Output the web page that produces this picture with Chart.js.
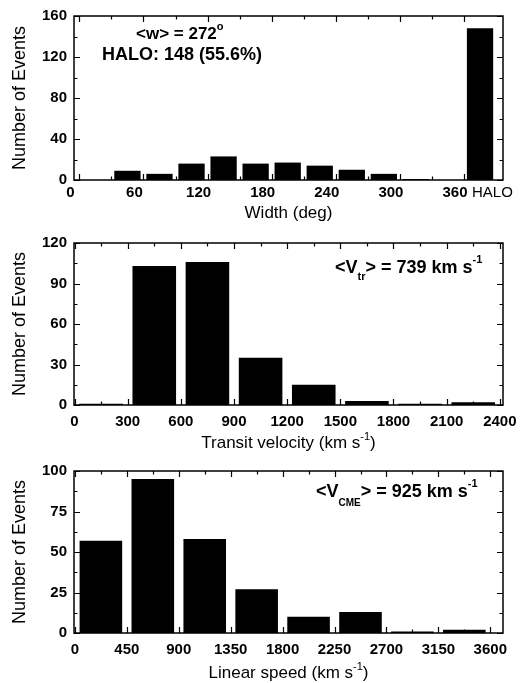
<!DOCTYPE html>
<html>
<head>
<meta charset="utf-8">
<script src="https://cdn.jsdelivr.net/npm/chart.js@4.4.0/dist/chart.umd.min.js"></script>
<style>
html, body { margin: 0; padding: 0; background: #fff; }
.panel { position: absolute; left: 0; width: 527px; }
</style>
</head>
<body>
<div class="panel" style="top:0;height:227px"><canvas id="cWidth"></canvas></div>
<div class="panel" style="top:227px;height:228px"><canvas id="cTransit"></canvas></div>
<div class="panel" style="top:455px;height:228px"><canvas id="cSpeed"></canvas></div>
<script>
// CME width histogram, 30 deg bins, last bin = halo events
const widthBins = [15, 45, 75, 105, 135, 165, 195, 225, 255, 285, 315, 345, 375];
const widthCounts = [0, 9, 6, 16, 23, 16, 17, 14, 10, 6, 1, 0, 148];
const widthTicks = [0, 60, 120, 180, 240, 300, 360];
const widthYTicks = [0, 40, 80, 120, 160];

// transit velocity histogram, 300 km/s bins
const transitBins = [150, 450, 750, 1050, 1350, 1650, 1950, 2250];
const transitCounts = [1, 103, 106, 35, 15, 3, 1, 2];
const transitTicks = [0, 300, 600, 900, 1200, 1500, 1800, 2100, 2400];
const transitYTicks = [0, 30, 60, 90, 120];

// CME linear speed histogram, 450 km/s bins
const speedBins = [225, 675, 1125, 1575, 2025, 2475, 2925, 3375];
const speedCounts = [57, 95, 58, 27, 10, 13, 1, 2];
const speedTicks = [0, 450, 900, 1350, 1800, 2250, 2700, 3150, 3600];
const speedYTicks = [0, 25, 50, 75, 100];

const FONT = '"Liberation Sans", Arial, sans-serif';
const HALO_POS = 395;

// draw a run of text pieces (for sub/superscripts)
function textRun(ctx, x, y, parts, align) {
  let w = 0;
  parts.forEach(p => {
    ctx.font = (p[1] ? 'bold ' : '') + p[2] + 'px ' + FONT;
    w += ctx.measureText(p[0]).width;
  });
  let cx = align === 'center' ? x - w / 2 : x;
  parts.forEach(p => {
    ctx.font = (p[1] ? 'bold ' : '') + p[2] + 'px ' + FONT;
    ctx.fillText(p[0], cx, y + (p[3] || 0));
    cx += ctx.measureText(p[0]).width;
  });
}

// frame, inward ticks, titles and annotations
const deco = {
  id: 'deco',
  afterDatasetsDraw(chart, args, opts) {
    const ctx = chart.ctx;
    const a = chart.chartArea;
    const xs = chart.scales.x, ys = chart.scales.y;
    ctx.save();
    ctx.strokeStyle = '#000';
    ctx.fillStyle = '#000';
    ctx.lineWidth = 1.2;
    ctx.beginPath();
    const tick = (v, len, horiz) => {
      if (horiz) {
        const px = Math.round(xs.getPixelForValue(v)) + 0.5;
        ctx.moveTo(px, a.bottom); ctx.lineTo(px, a.bottom - len);
        ctx.moveTo(px, a.top); ctx.lineTo(px, a.top + len);
      } else {
        const py = Math.round(ys.getPixelForValue(v)) + 0.5;
        ctx.moveTo(a.left, py); ctx.lineTo(a.left + len, py);
        ctx.moveTo(a.right, py); ctx.lineTo(a.right - len, py);
      }
    };
    opts.xMajor.forEach(v => tick(v, 6, true));
    for (let v = opts.xMajor[0] + opts.xStep / 2; v < opts.xMajor[opts.xMajor.length - 1]; v += opts.xStep) tick(v, 3.5, true);
    opts.yMajor.forEach(v => tick(v, 6, false));
    for (let v = opts.yStep / 2; v < opts.yMajor[opts.yMajor.length - 1]; v += opts.yStep) tick(v, 3.5, false);
    ctx.stroke();

    ctx.lineWidth = 1.5;
    ctx.strokeRect(a.left, a.top, a.right - a.left, a.bottom - a.top);

    ctx.textBaseline = 'alphabetic';
    ctx.textAlign = 'left';
    // x title
    textRun(ctx, (a.left + a.right) / 2, opts.xTitleY, opts.xTitle, 'center');
    // y title
    ctx.save();
    ctx.translate(25, (a.top + a.bottom) / 2);
    ctx.rotate(-Math.PI / 2);
    textRun(ctx, 0, 0, [['Number of Events', false, 18]], 'center');
    ctx.restore();
    // annotations
    opts.notes.forEach(n => textRun(ctx, n.x, n.y, n.parts, 'left'));
    ctx.restore();
  }
};

function makePanel(id, c) {
  return new Chart(document.getElementById(id), {
    type: 'bar',
    data: {
      datasets: [{
        data: c.bins.map((x, i) => ({ x: x, y: c.counts[i] })),
        backgroundColor: '#000',
        borderWidth: 0,
        barPercentage: 0.82,
        categoryPercentage: 1
      }]
    },
    options: {
      responsive: true,
      maintainAspectRatio: false,
      animation: false,
      layout: { padding: { top: c.padTop, right: 24, left: 0, bottom: 0 } },
      plugins: {
        legend: { display: false },
        tooltip: { enabled: false },
        deco: c.deco
      },
      scales: {
        x: {
          type: 'linear',
          offset: false,
          min: c.xMin,
          max: c.xMax,
          grid: { display: false, drawTicks: false, offset: false },
          border: { display: false },
          afterBuildTicks: s => { s.ticks = c.xTicks.map(v => ({ value: v })); },
          afterFit: s => { s.height = c.xAxisH; },
          ticks: {
            autoSkip: false,
            maxRotation: 0,
            padding: c.xPad,
            labelOffset: c.labelOffset || 0,
            color: '#000',
            font: ctx => (ctx.tick && ctx.tick.value === HALO_POS)
              ? { family: FONT, size: 15, weight: 'normal' }
              : { family: FONT, size: 15, weight: 'bold' },
            callback: v => v === HALO_POS ? 'HALO' : String(v)
          }
        },
        y: {
          min: 0,
          max: c.yTicks[c.yTicks.length - 1],
          grid: { display: false, drawTicks: false },
          border: { display: false },
          afterBuildTicks: s => { s.ticks = c.yTicks.map(v => ({ value: v })); },
          afterFit: s => { s.width = 74; },
          ticks: {
            padding: 7,
            color: '#000',
            font: { family: FONT, size: 15, weight: 'bold' },
            callback: v => String(v)
          }
        }
      }
    },
    plugins: [deco]
  });
}

makePanel('cWidth', {
  bins: widthBins, counts: widthCounts,
  xTicks: widthTicks.concat([HALO_POS]), yTicks: widthYTicks,
  xMin: -5, xMax: 396.5, padTop: 16, xAxisH: 47, xPad: 3.5, labelOffset: -9,
  deco: {
    xMajor: widthTicks, xStep: 60, yMajor: widthYTicks, yStep: 40,
    xTitleY: 218,
    xTitle: [['Width (deg)', false, 17]],
    notes: [
      { x: 136, y: 39, parts: [['<w> = 272', true, 17], ['o', true, 11, -9]] },
      { x: 102, y: 60, parts: [['HALO: 148 (55.6%)', true, 18]] }
    ]
  }
});

makePanel('cTransit', {
  bins: transitBins, counts: transitCounts,
  xTicks: transitTicks, yTicks: transitYTicks,
  xMin: -3, xMax: 2418, padTop: 14, xAxisH: 50, xPad: 7.5,
  deco: {
    xMajor: transitTicks, xStep: 300, yMajor: transitYTicks, yStep: 30,
    xTitleY: 221,
    xTitle: [['Transit velocity (km s', false, 17], ['-1', false, 11, -8], [')', false, 17]],
    notes: [
      { x: 335, y: 46, parts: [['<V', true, 18], ['tr', true, 11, 7], ['> = 739 km s', true, 18], ['-1', true, 11, -10]] }
    ]
  }
});

makePanel('cSpeed', {
  bins: speedBins, counts: speedCounts,
  xTicks: speedTicks, yTicks: speedYTicks,
  xMin: -8, xMax: 3710, padTop: 13, xAxisH: 50, xPad: 7.5,
  deco: {
    xMajor: speedTicks, xStep: 450, yMajor: speedYTicks, yStep: 25,
    xTitleY: 223,
    xTitle: [['Linear speed (km s', false, 17], ['-1', false, 11, -8], [')', false, 17]],
    notes: [
      { x: 316, y: 42, parts: [['<V', true, 18], ['CME', true, 10, 9], ['> = 925 km s', true, 18], ['-1', true, 11, -10]] }
    ]
  }
});
</script>
</body>
</html>
